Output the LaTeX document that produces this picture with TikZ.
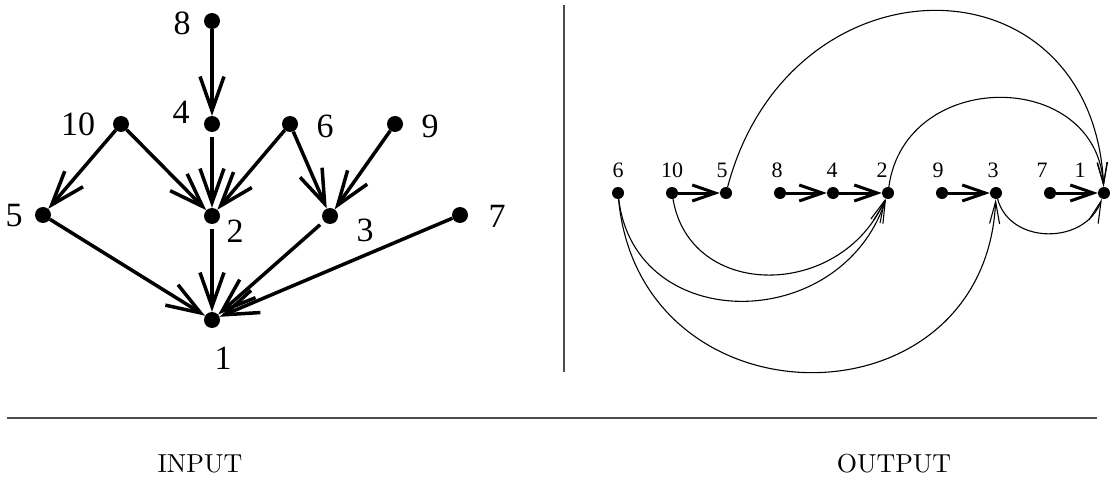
\documentclass[tikz,border=0pt]{standalone}
\usepackage{fontspec}
\newfontfamily\numfont{Liberation Serif}
\newfontfamily\capfont{lmroman10-regular.otf}
\usetikzlibrary{arrows.meta}
\begin{document}
\begin{tikzpicture}[x=1pt,y=-1pt,
  bigdot/.style={circle,fill=black,inner sep=0pt,minimum size=16pt},
  smalldot/.style={circle,fill=black,inner sep=0pt,minimum size=12pt},
  biglabel/.style={font=\numfont\fontsize{34}{36}\selectfont,inner sep=0pt},
  smalllabel/.style={font=\numfont\fontsize{22}{24}\selectfont,inner sep=0pt},
  inedge/.style={line width=3.5pt,-{Straight Barb[length=34pt,width=24pt]}},
  outedge/.style={line width=3pt,-{Straight Barb[length=23pt,width=16pt]}},
  arcedge/.style={line width=1.1pt,-{Straight Barb[length=22pt,width=10pt]}},
  caption/.style={font=\capfont\fontsize{26}{28}\selectfont,inner sep=0pt},
  rule/.style={line width=1.5pt,draw=black!70}
]
\useasboundingbox (0,0) rectangle (1115,481);

% ---------------- INPUT graph ----------------
\node[bigdot] (a8)  at (212,21)  {};
\node[bigdot] (a4)  at (212,124) {};
\node[bigdot] (a10) at (121,124) {};
\node[bigdot] (a6)  at (290,124) {};
\node[bigdot] (a9)  at (395,124) {};
\node[bigdot] (a5)  at (43,215)  {};
\node[bigdot] (a2)  at (212,216) {};
\node[bigdot] (a3)  at (330,216) {};
\node[bigdot] (a7)  at (460,215) {};
\node[bigdot] (a1)  at (212,320) {};

\node[biglabel] (la8)  at (182,23)  {8};
\node[biglabel] (la4)  at (181,112) {4};
\node[biglabel] (la10) at (78,124)  {10};
\node[biglabel] (la6)  at (325,126) {6};
\node[biglabel] (la9)  at (430,126) {9};
\node[biglabel] (la5)  at (14,216)  {5};
\node[biglabel] (la2)  at (235,231) {2};
\node[biglabel] (la3)  at (365,230) {3};
\node[biglabel] (la7)  at (497,216) {7};
\node[biglabel] (la1)  at (223,358) {1};

\draw[inedge] (a8) -- (a4);
\draw[inedge] (a10) -- (a5);
\draw[inedge] (a10) -- (a2);
\draw[inedge,shorten <=5pt] (a4) -- (a2);
\draw[inedge] (a6) -- (a2);
\draw[inedge] (a6) -- (a3);
\draw[inedge] (a9) -- (a3);
\draw[inedge] (a5) -- (a1);
\draw[inedge,shorten <=5pt] (a2) -- (a1);
\draw[inedge,shorten <=5pt] (a3) -- (a1);
\draw[inedge] (a7) -- (a1);

% ---------------- OUTPUT graph ----------------
\node[smalldot] (b6)  at (618,193)  {};
\node[smalldot] (b10) at (672,193)  {};
\node[smalldot] (b5)  at (726,193)  {};
\node[smalldot] (b8)  at (780,193)  {};
\node[smalldot] (b4)  at (833,193)  {};
\node[smalldot] (b2)  at (888,193)  {};
\node[smalldot] (b9)  at (942,193)  {};
\node[smalldot] (b3)  at (996,193)  {};
\node[smalldot] (b7)  at (1050,193) {};
\node[smalldot] (b1)  at (1104,193) {};

\node[smalllabel] (lb6)  at (618,170)  {6};
\node[smalllabel] (lb10) at (672,170)  {10};
\node[smalllabel] (lb5)  at (722,170)  {5};
\node[smalllabel] (lb8)  at (777,170)  {8};
\node[smalllabel] (lb4)  at (832,170)  {4};
\node[smalllabel] (lb2)  at (882,170)  {2};
\node[smalllabel] (lb9)  at (938,170)  {9};
\node[smalllabel] (lb3)  at (993,170)  {3};
\node[smalllabel] (lb7)  at (1042,170) {7};
\node[smalllabel] (lb1)  at (1080,170) {1};

\draw[outedge] (b10) -- (b5);
\draw[outedge] (b8) -- (b4);
\draw[outedge] (b4) -- (b2);
\draw[outedge] (b9) -- (b3);
\draw[outedge] (b7) -- (b1);

\draw[arcedge] (b5) .. controls (790,-48) and (1092,-48) .. (b1);
\draw[arcedge] (b2) .. controls (905,68) and (1096,68) .. (b1);
\draw[arcedge] (b10) .. controls (690,300) and (840,300) .. (b2);
\draw[arcedge] (b6) .. controls (635,335) and (840,335) .. (b2);
\draw[arcedge] (b6) .. controls (640,430) and (985,430) .. (b3);
\draw[arcedge] (b3) .. controls (1010,245) and (1085,245) .. (b1);

% ---------------- rules and captions ----------------
\coordinate (vt) at (564,5);
\coordinate (vb) at (564,372);
\draw[rule] (vt) -- (vb);
\coordinate (hl) at (7,418);
\coordinate (hr) at (1097,418);
\draw[rule] (hl) -- (hr);

\node[caption] (cin)  at (200,464) {INPUT};
\node[caption] (cout) at (894,464) {OUTPUT};
\end{tikzpicture}
\end{document}
